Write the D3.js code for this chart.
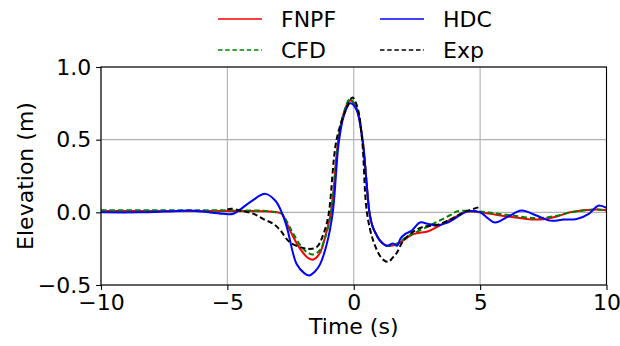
<!DOCTYPE html>
<html>
<head>
<meta charset="utf-8">
<script src="https://cdn.jsdelivr.net/npm/d3@7"></script>
<style>
  body { margin: 0; background: #fff; }
  text { font-family: "DejaVu Sans", sans-serif; fill: #000; }
</style>
</head>
<body>
<div id="chart"></div>
<script>
// series data (time in s, elevation in m)
const fnpfT = [-10, -8, -6, -4.5, -3.5, -3.05, -2.85, -2.52, -2.13, -1.8, -1.6, -1.34, -1.15, -0.9, -0.61, -0.4, -0.15, 0.1, 0.35, 0.5, 0.62, 0.75, 0.9, 1.04, 1.3, 1.7, 2.36, 2.95, 3.41, 3.93, 4.47, 5.0, 5.4, 6.2, 7.24, 8.0, 8.56, 9.6, 10];
const fnpfV = [0.01, 0.01, 0.01, 0.01, 0.008, 0.0, -0.01, -0.126, -0.25, -0.315, -0.325, -0.28, -0.18, 0.0, 0.5, 0.68, 0.77, 0.72, 0.5, 0.22, 0.0, -0.1, -0.155, -0.195, -0.23, -0.22, -0.15, -0.13, -0.09, -0.04, 0.005, 0.0, -0.01, -0.03, -0.05, -0.03, 0.0, 0.02, 0.015];

const cfdT = [-10, -8, -6, -4.5, -3.5, -3.05, -2.85, -2.46, -2.06, -1.8, -1.6, -1.34, -1.14, -0.9, -0.61, -0.4, -0.15, 0.1, 0.35, 0.5, 0.62, 0.75, 0.9, 1.04, 1.3, 1.7, 2.09, 3.02, 3.81, 4.1, 5.0, 5.5, 6.2, 7.2, 8.0, 8.6, 9.6, 10];
const cfdV = [0.015, 0.015, 0.015, 0.013, 0.01, 0.0, -0.01, -0.126, -0.24, -0.28, -0.29, -0.26, -0.18, 0.0, 0.5, 0.68, 0.78, 0.72, 0.5, 0.22, 0.0, -0.1, -0.155, -0.195, -0.23, -0.215, -0.17, -0.09, -0.02, 0.007, 0.005, -0.005, -0.02, -0.04, -0.025, 0.0, 0.02, 0.012];

const hdcT = [-10, -8.5, -7.5, -6.5, -6, -5.17, -4.77, -4.1, -3.5, -3.1, -2.85, -2.65, -2.26, -1.95, -1.76, -1.55, -1.34, -1.07, -0.83, -0.6, -0.4, -0.15, 0.1, 0.35, 0.5, 0.62, 0.75, 0.9, 1.04, 1.3, 1.55, 1.72, 1.85, 2.03, 2.3, 2.62, 2.95, 3.28, 3.68, 4.07, 4.47, 5.0, 5.3, 5.59, 6.1, 6.64, 7.2, 7.77, 8.3, 8.82, 9.3, 9.68, 10];
const hdcV = [0.0, 0.0, 0.005, 0.012, 0.005, -0.01, -0.01, 0.07, 0.127, 0.08, 0.0, -0.1, -0.356, -0.42, -0.435, -0.41, -0.36, -0.22, 0.0, 0.47, 0.66, 0.75, 0.71, 0.49, 0.22, 0.0, -0.1, -0.155, -0.195, -0.23, -0.215, -0.23, -0.18, -0.15, -0.125, -0.07, -0.08, -0.09, -0.073, -0.035, 0.005, 0.0, -0.04, -0.07, -0.03, 0.012, -0.02, -0.057, -0.05, -0.046, -0.01, 0.046, 0.03];

const expT = [-5.0, -4.85, -4.5, -3.97, -3.58, -3.18, -2.92, -2.52, -1.86, -1.47, -1.2, -1.0, -0.68, -0.3, -0.05, 0.15, 0.33, 0.52, 0.77, 1.04, 1.2, 1.37, 1.55, 1.7, 1.96, 2.36, 2.75, 3.28, 3.81, 4.34, 4.95];
const expV = [0.02, 0.025, 0.012, -0.01, -0.046, -0.08, -0.12, -0.207, -0.25, -0.24, -0.15, -0.02, 0.5, 0.71, 0.79, 0.72, 0.5, 0.0, -0.195, -0.3, -0.33, -0.34, -0.31, -0.28, -0.195, -0.133, -0.1, -0.087, -0.05, 0.0, 0.035];

const xTicks = [-10, -5, 0, 5, 10];
const yTicks = [-0.5, 0.0, 0.5, 1.0];

const series = [
  { name: "FNPF", t: fnpfT, v: fnpfV, color: "#ff0000", dash: null },
  { name: "CFD", t: cfdT, v: cfdV, color: "#008000", dash: "5.5,3" },
  { name: "HDC", t: hdcT, v: hdcV, color: "#0000ff", dash: null },
  { name: "Exp", t: expT, v: expV, color: "#000000", dash: "5.5,3" },
];

const width = 620, height = 346;
const margin = { top: 67, right: 13.5, bottom: 61, left: 101 };
const w = width - margin.left - margin.right;
const h = height - margin.top - margin.bottom;

const svg = d3.select("#chart").append("svg")
  .attr("width", width)
  .attr("height", height);

const chart = svg.append("g")
  .attr("transform", `translate(${margin.left},${margin.top})`);

const x = d3.scaleLinear().domain([-10, 10]).range([0, w]);
const y = d3.scaleLinear().domain([-0.5, 1.0]).range([h, 0]);

// grid
chart.append("g").selectAll("line")
  .data(xTicks).join("line")
  .attr("x1", d => x(d)).attr("x2", d => x(d))
  .attr("y1", 0).attr("y2", h)
  .attr("stroke", "#b0b0b0").attr("stroke-width", 1.1);
chart.append("g").selectAll("line")
  .data(yTicks).join("line")
  .attr("x1", 0).attr("x2", w)
  .attr("y1", d => y(d)).attr("y2", d => y(d))
  .attr("stroke", "#b0b0b0").attr("stroke-width", 1.1);

chart.append("clipPath").attr("id", "clip")
  .append("rect").attr("width", w).attr("height", h);

const line = d3.line()
  .x(d => x(d[0]))
  .y(d => y(d[1]))
  .curve(d3.curveCatmullRom.alpha(0.5));

series.forEach(s => {
  chart.append("path")
    .datum(s.t.map((t, i) => [t, s.v[i]]))
    .attr("clip-path", "url(#clip)")
    .attr("fill", "none")
    .attr("stroke", s.color)
    .attr("stroke-width", 2)
    .attr("stroke-dasharray", s.dash)
    .attr("d", line);
});

// axes
const xAxis = chart.append("g")
  .attr("transform", `translate(0,${h})`)
  .call(d3.axisBottom(x).tickValues(xTicks).tickFormat(d3.format("d")).tickSize(4.9).tickPadding(4.9));
const yAxis = chart.append("g")
  .call(d3.axisLeft(y).tickValues(yTicks).tickFormat(d3.format(".1f")).tickSize(4.9).tickPadding(4.9));

[xAxis, yAxis].forEach(a => {
  a.select(".domain").remove();
  a.selectAll(".tick line").attr("stroke", "#000").attr("stroke-width", 1.1);
  a.selectAll("text").style("font-size", "22px").style("font-family", "DejaVu Sans");
});

// spines
chart.append("rect")
  .attr("width", w).attr("height", h)
  .attr("fill", "none")
  .attr("stroke", "#000")
  .attr("stroke-width", 1.1);

// axis labels
svg.append("text")
  .attr("x", margin.left + w / 2)
  .attr("y", 334)
  .attr("text-anchor", "middle")
  .style("font-size", "22px")
  .text("Time (s)");

svg.append("text")
  .attr("transform", `translate(33,${margin.top + h / 2}) rotate(-90)`)
  .attr("text-anchor", "middle")
  .style("font-size", "22px")
  .text("Elevation (m)");

// legend (two columns)
const legendPos = [
  { x: 218, y: 19 }, { x: 218, y: 50 },
  { x: 380, y: 19 }, { x: 380, y: 50 },
];
const legend = svg.append("g");
series.forEach((s, i) => {
  const p = legendPos[i];
  legend.append("line")
    .attr("x1", p.x).attr("x2", p.x + 44)
    .attr("y1", p.y).attr("y2", p.y)
    .attr("stroke", s.color)
    .attr("stroke-width", 1.3)
    .attr("stroke-dasharray", s.dash ? "4.5,2.7" : null);
  legend.append("text")
    .attr("x", p.x + 63)
    .attr("y", p.y + 8)
    .style("font-size", "22px")
    .text(s.name);
});
</script>
</body>
</html>
